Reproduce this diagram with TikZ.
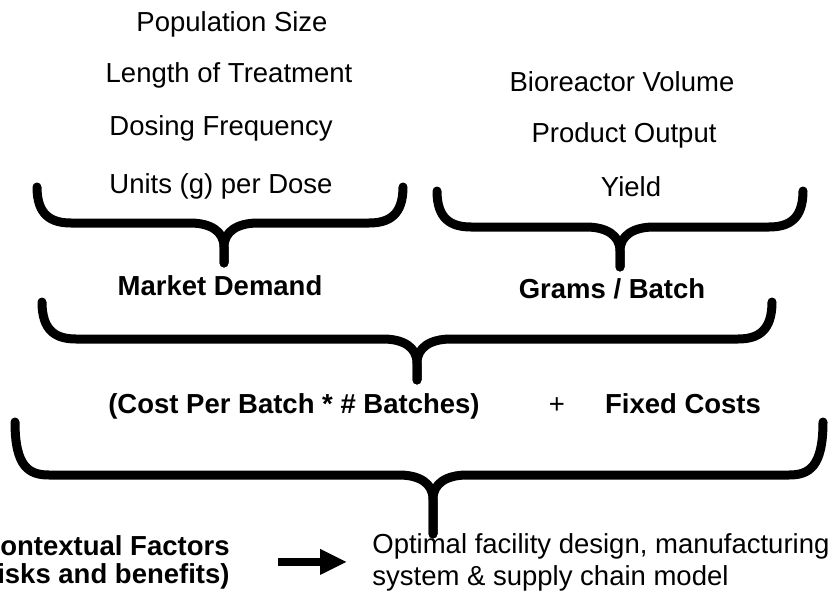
\documentclass[tikz,border=0pt]{standalone}
\usepackage{fontspec}
\setmainfont{Liberation Sans}
\usetikzlibrary{arrows.meta}
\tikzset{%
  txt/.style={font=\fontsize{13.75}{16}\selectfont, inner sep=0pt, anchor=base},
  bold txt/.style={txt, font=\fontsize{13.75}{16}\selectfont\bfseries},
  brace line/.style={line width=4.5pt, line cap=round, line join=round},
  fat arrow/.style={draw, line width=4pt, -{Triangle[length=13.5pt,width=12pt]}}
}
% left x, top y, right x, level y, tip x, tip y
\newcommand{\drawbrace}[6]{%
  \draw[brace line] (#1,#2) .. controls (#1,#4-8) and (#1+14,#4) .. (#1+34,#4)
    -- (#5-34,#4) .. controls (#5-14,#4) and (#5,#4+8) .. (#5,#4+24) -- (#5,#6);
  \draw[brace line] (#3,#2) .. controls (#3,#4-8) and (#3-14,#4) .. (#3-34,#4)
    -- (#5+34,#4) .. controls (#5+14,#4) and (#5,#4+8) .. (#5,#4+24) -- (#5,#6);
}

\begin{document}
\begin{tikzpicture}[x=0.5pt, y=-0.5pt]
  \useasboundingbox (0,0) rectangle (830,599);

  % demand side
  \node[txt] (pop)   at (232,32)  {Population Size};
  \node[txt] (len)   at (229,83)  {Length of Treatment};
  \node[txt] (freq)  at (221,135) {Dosing Frequency};
  \node[txt] (units) at (221,193) {Units (g) per Dose};

  % supply side
  \node[txt] (vol)   at (622,92)  {Bioreactor Volume};
  \node[txt] (out)   at (624,142) {Product Output};
  \node[txt] (yield) at (631,197) {Yield};

  \drawbrace{37}{187}{403}{223}{224}{263}
  \drawbrace{437}{191}{803}{227}{620}{267}

  \node[bold txt] (demand) at (220,295) {Market Demand};
  \node[bold txt] (grams)  at (612,298) {Grams / Batch};

  \drawbrace{42}{302}{772}{339}{417}{380}

  \node[bold txt] (cost)  at (294,413) {(Cost Per Batch * \# Batches)};
  \node[txt]      (plus)  at (557,413) {+};
  \node[bold txt] (fixed) at (683,413) {Fixed Costs};

  \drawbrace{15}{422}{823}{475}{433}{534}

  % outcome
  \node[bold txt, anchor=base east, align=right] (context) at (230,583)
    {Contextual Factors\\[-2pt](Risks and benefits)};
  \node[txt, anchor=base west, align=left] (design) at (372,585)
    {Optimal facility design, manufacturing\\system \& supply chain model};

  \draw[fat arrow, shorten <=24pt, shorten >=12.5pt] (context.east) -- (design.west);
\end{tikzpicture}
\end{document}
